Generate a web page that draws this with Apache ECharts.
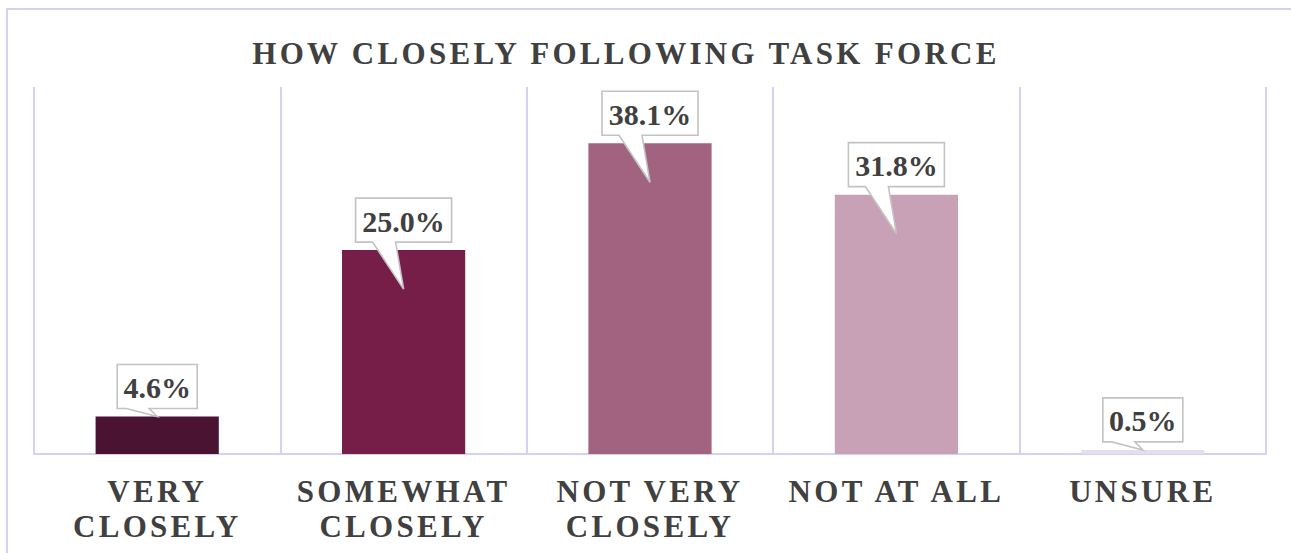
<!DOCTYPE html>
<html>
<head>
<meta charset="utf-8">
<script src="https://cdn.jsdelivr.net/npm/echarts@6/dist/echarts.min.js"></script>
<style>
  html, body { margin: 0; padding: 0; background: #ffffff; overflow: hidden; }
  #chart { position: absolute; left: 0; top: 0; width: 1291px; height: 553px; }
  #frame { position: absolute; left: 6px; top: 8px; width: 1320px; height: 600px;
           border: 2px solid #d6d1f1; box-sizing: border-box; pointer-events: none; }
  #chart svg text[style*="31px"] { letter-spacing: 3.3px; }
</style>
</head>
<body>
<div id="chart"></div>
<div id="frame"></div>
<script>
const titleText = 'HOW CLOSELY FOLLOWING TASK FORCE';
const categories = ['VERY\nCLOSELY', 'SOMEWHAT\nCLOSELY', 'NOT VERY\nCLOSELY', 'NOT AT ALL', 'UNSURE'];
const values = [4.6, 25.0, 38.1, 31.8, 0.5];
const barColors = ['#4a1331', '#761e48', '#a1637f', '#c9a1b6', '#e5ddf0'];
const valueAxisMax = 45;

const chart = echarts.init(document.getElementById('chart'), null, { renderer: 'svg' });

function callout(params, api) {
  const v = api.value(1);
  const top = api.coord([api.value(0), v]);
  const base = api.coord([api.value(0), 0]);
  const cx = top[0];
  const h = base[1] - top[1];
  const tipY = h > 100 ? top[1] + 39 : top[1];
  const label = v.toFixed(1) + '%';
  const w = label.length * 16 + 16;
  const bh = 44;
  const by = top[1] - 8;
  const ty = by - bh;
  const l = cx - w / 2, r = cx + w / 2;
  return {
    type: 'group',
    children: [
      {
        type: 'polygon',
        shape: { points: [[l, ty], [r, ty], [r, by], [cx - 8, by], [cx, tipY], [cx - 31, by], [l, by]] },
        style: { fill: '#ffffff', stroke: '#c3c3c3', lineWidth: 1.6 }
      },
      {
        type: 'text',
        x: cx, y: ty + bh / 2 + 1,
        style: {
          text: label, align: 'center', verticalAlign: 'middle',
          font: 'bold 30px "Liberation Serif", serif', fill: '#404040'
        }
      }
    ]
  };
}

chart.setOption({
  animation: false,
  title: {
    text: titleText,
    left: 621, top: 32, textAlign: 'center',
    textStyle: { fontFamily: '"Liberation Serif", serif', fontWeight: 'bold', fontSize: 31, color: '#404040', lineHeight: 32 }
  },
  grid: { left: 34, right: 25, top: 87, bottom: 99, containLabel: false },
  xAxis: {
    type: 'category',
    data: categories,
    boundaryGap: true,
    axisLine: { show: true, lineStyle: { color: '#d6d1f1', width: 2 } },
    axisTick: { show: false },
    splitLine: { show: true, interval: 0, lineStyle: { color: '#d6d1f1', width: 2 } },
    axisLabel: {
      interval: 0, margin: 20,
      fontFamily: '"Liberation Serif", serif', fontWeight: 'bold', fontSize: 31,
      color: '#404040', lineHeight: 35
    }
  },
  yAxis: {
    type: 'value', min: 0, max: valueAxisMax,
    show: false, splitLine: { show: false }
  },
  series: [
    {
      type: 'bar',
      barWidth: '50%',
      data: values.map((v, i) => ({ value: v, itemStyle: { color: barColors[i] } })),
      z: 2
    },
    {
      type: 'custom',
      renderItem: callout,
      data: values.map((v, i) => [i, v]),
      encode: { x: 0, y: 1 },
      z: 5
    }
  ]
});
</script>
</body>
</html>
